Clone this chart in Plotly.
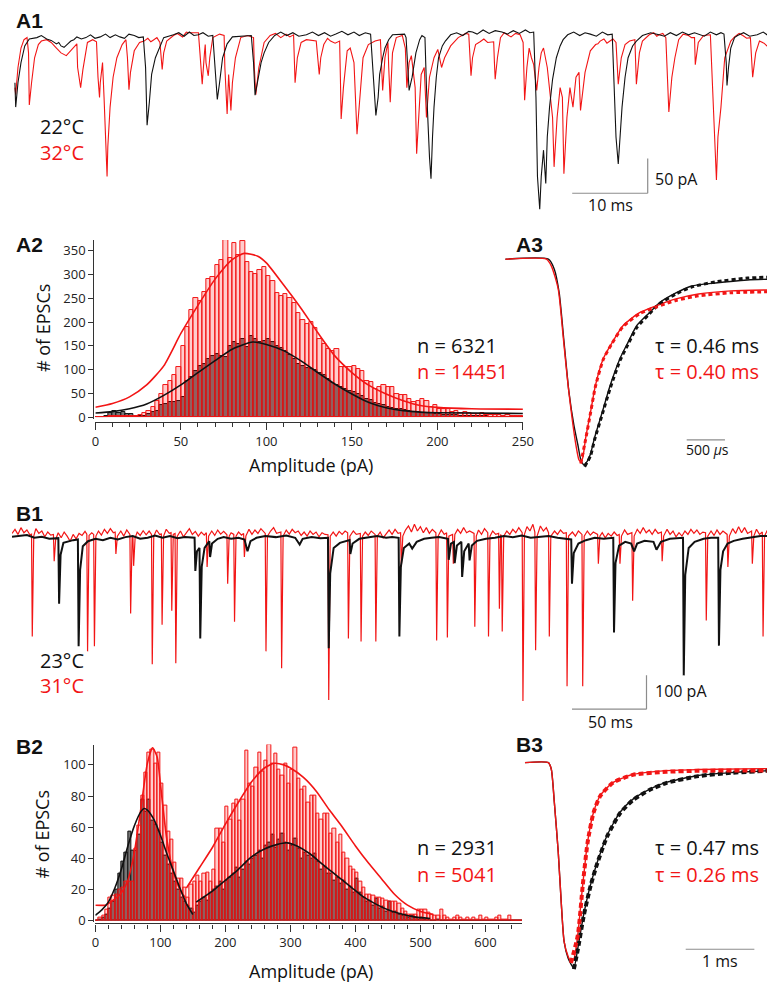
import plotly.graph_objects as go

# ---------------- data ----------------
# A1: spontaneous EPSC traces, (time ms, current pA)
a1_black = [(0, -69), (0.1, -104), (0.4, -69), (0.8, -40), (1.3, -16), (1.9, -6), (2.9, -4), (4.2, -6), (5.5, -13),
            (6.1, -16), (7.0, -13), (7.8, -7), (9.4, -4), (11.3, -3), (13.9, -3), (15.8, -1), (17.0, -3), (17.3, -47),
            (17.5, -130), (17.8, -97), (18.1, -57), (18.6, -33), (19.1, -19), (19.7, -4), (21.0, 0), (24.3, 0),
            (26.2, -1), (26.5, -47), (26.8, -93), (27.1, -69), (27.5, -33), (28.1, -13), (28.8, -3), (31.3, -1),
            (31.6, -40), (31.8, -87), (32.2, -64), (32.6, -40), (33.0, -26), (33.6, -11), (34.4, -1), (38.6, 0),
            (42.5, 1), (46.4, 3), (47.1, 1), (47.4, -47), (47.8, -116), (48.1, -90), (48.3, -57), (48.7, -33),
            (49.0, -19), (49.5, -7), (50.0, 0), (51.6, 1), (51.8, -4), (52.1, -61), (52.2, -80), (52.6, -61),
            (53.1, -26), (53.6, -7), (53.9, -1), (54.3, -4), (54.5, -76), (54.9, -176), (55.1, -207), (55.3, -147),
            (55.5, -104), (55.8, -61), (56.1, -33), (56.6, -16), (57.0, -9), (57.7, 0), (60.6, 4), (64.5, 4),
            (68.7, 4), (69.0, -90), (69.2, -204), (69.5, -251), (69.7, -204), (70.0, -166), (70.3, -214),
            (70.5, -147), (70.8, -104), (71.2, -64), (71.7, -33), (72.2, -16), (72.6, -7), (73.2, 0), (76.2, 1),
            (79.1, 1), (79.4, -76), (79.6, -147), (79.9, -186), (80.1, -147), (80.4, -104), (80.8, -61), (81.2, -33),
            (81.8, -16), (82.3, -9), (83.1, -1), (85.3, 0), (90.5, 1), (93.9, 1), (94.2, -40), (94.3, -73),
            (94.5, -47), (94.8, -19), (95.3, -4), (95.7, -1), (98.3, 0), (100.0, 3)]
# small baseline fluctuations of the black trace
a1_black_noise = [(3.5, -1), (4.8, -8), (5.8, -11), (6.5, -18), (7.4, -9), (8.2, -3), (8.8, -6), (10.0, 0),
                  (10.6, -5), (12.0, 1), (12.6, -4), (13.3, 0), (14.5, -5), (15.1, 1), (16.4, -4), (21.7, 3),
                  (22.4, -2), (23.1, 4), (23.7, -1), (24.9, 3), (25.6, -2), (35.2, 4), (36.0, -1), (36.8, 3),
                  (37.6, -2), (39.4, 4), (40.2, -1), (41.0, 3), (41.8, -2), (43.3, 5), (44.1, 0), (44.9, 4),
                  (45.6, -1), (58.5, 3), (59.3, -1), (60.1, 5), (61.2, 1), (62.0, 7), (62.8, 2), (63.6, 6), (65.2, 1),
                  (66.0, 6), (66.8, 2), (67.6, 7), (68.2, 3), (74.0, 4), (74.8, -1), (75.5, 3), (77.0, -2),
                  (77.8, 4), (78.5, 0), (84.2, 3), (86.0, -2), (86.8, 3), (87.6, -1), (88.4, 4), (89.2, 0), (90.0, 3),
                  (91.3, -2), (92.1, 4), (92.9, 0), (93.5, 3), (96.5, 3), (97.3, -2), (99.1, 4), (99.6, 0)]
a1_red = [(0, -76), (0.1, -86), (0.4, -47), (0.8, -19), (1.2, -7), (1.6, -4), (1.8, -26), (1.9, -101), (2.2, -69),
          (2.6, -33), (3.1, -14), (3.5, -9), (4.8, -11), (6.1, -26), (6.8, -30), (7.4, -23), (8.2, -13), (8.3, -47),
          (8.7, -76), (9.0, -50), (9.4, -26), (9.6, -11), (10.3, -7), (10.8, -10), (11.0, -61), (11.2, -90),
          (11.3, -69), (11.6, -40), (11.8, -90), (12.1, -161), (12.2, -204), (12.3, -161), (12.6, -104), (13.0, -61),
          (13.5, -33), (14.2, -14), (14.7, -7), (14.9, -33), (15.1, -79), (15.3, -54), (15.8, -23), (16.5, -11),
          (17.1, -9), (18.4, -7), (19.2, -11), (19.4, -40), (19.5, -50), (19.7, -26), (20.1, -9), (21.0, -1),
          (23.0, 3), (24.3, 3), (24.5, -26), (24.8, -71), (25.1, -26), (25.2, -14), (25.3, -40), (25.6, -59),
          (25.8, -33), (26.2, -4), (27.1, 1), (27.7, -1), (27.8, -47), (28.1, -114), (28.3, -57), (28.6, -109),
          (28.8, -69), (29.2, -33), (29.9, -4), (30.8, -1), (31.6, -4), (31.7, -47), (31.9, -86), (32.3, -47),
          (33.0, -11), (33.8, -1), (36.9, 0), (37.0, -26), (37.1, -69), (37.4, -33), (37.9, -11), (38.6, -7),
          (39.9, -9), (40.1, -33), (40.3, -57), (40.5, -33), (40.9, -14), (41.8, -9), (43.0, -9), (43.1, -61),
          (43.2, -121), (43.5, -76), (44.0, -23), (44.4, -19), (44.9, -40), (45.3, -143), (45.6, -104), (46.1, -33),
          (46.8, -14), (47.7, -9), (48.4, -7), (48.6, -47), (48.7, -80), (49.0, -33), (49.4, -11), (49.5, -47),
          (49.7, -97), (50.0, -26), (50.5, -4), (51.3, -1), (51.7, -19), (51.9, -76), (52.2, -40), (52.5, -30),
          (52.7, -50), (53.0, -76), (53.2, -171), (53.5, -104), (53.8, -57), (54.2, -47), (54.5, -119), (54.9, -61),
          (55.5, -33), (56.0, -21), (56.5, -47), (56.9, -33), (57.7, -16), (58.7, -4), (59.4, 1), (60.1, 1),
          (60.3, -33), (60.4, -59), (60.6, -33), (61.0, -14), (61.6, -10), (62.6, -11), (63.4, -10), (63.5, -40),
          (63.6, -64), (63.9, -33), (64.3, -4), (65.2, 0), (66.9, 0), (67.3, -11), (67.5, -94), (67.8, -47),
          (68.1, -19), (68.4, -33), (68.7, -43), (69.1, -80), (69.4, -47), (69.7, -26), (70.0, -19), (70.5, -47),
          (70.9, -90), (71.2, -119), (71.4, -190), (71.8, -119), (72.2, -76), (72.5, -90), (72.7, -200),
          (73.1, -119), (73.5, -76), (73.9, -104), (74.3, -61), (74.7, -54), (74.9, -109), (75.5, -54), (76.2, -23),
          (76.9, -14), (77.5, -9), (78.8, -9), (79.6, -11), (79.9, -71), (80.3, -33), (80.8, -14), (81.4, -9),
          (82.1, -7), (82.3, -71), (82.7, -26), (83.1, -9), (84.0, 0), (85.3, 0), (86.2, -4), (86.6, -111),
          (87.0, -61), (87.4, -33), (87.9, -7), (89.2, -1), (90.0, -4), (90.1, -43), (90.5, -11), (91.2, -1),
          (92.1, 0), (92.3, -47), (92.6, -123), (92.9, -209), (93.1, -147), (93.5, -104), (94.0, -33), (94.8, -9),
          (96.4, -1), (97.4, -4), (97.7, -61), (98.1, -26), (98.6, -9), (99.6, -16), (100.0, -13)]
# small baseline fluctuations of the red trace
a1_red_noise = [(4.2, -7), (5.4, -18), (17.6, -5), (18.0, -10), (18.8, -4), (21.5, 2), (22.2, -3), (22.7, 4),
                (34.5, 2), (35.2, -4), (35.9, 1), (36.4, -3), (41.4, -5), (42.4, -12), (59.0, -2), (59.7, 2),
                (62.1, -6), (64.8, 3), (65.7, -3), (66.3, 2), (77.2, -13), (78.0, -6), (78.4, -12), (79.2, -6),
                (84.6, 3), (85.0, -2), (85.8, 2), (88.5, 1), (89.6, -4), (95.3, -3), (95.9, 2), (96.9, -5),
                (99.2, -12)]
a1_scalebar_ms = 10
a1_scalebar_pa = 50

# A2: amplitude histograms (bin width 2.5 pA, bins from 0)
a2_bin_width = 2.5
a2_red_counts = [0, 0, 1, 2, 2, 3, 2, 2, 2, 3,
                 4, 8, 14, 22, 35, 49, 67, 77, 88, 105,
                 150, 190, 225, 250, 245, 262, 290, 295, 320, 330,
                 372, 335, 365, 340, 370, 325, 305, 300, 310, 315,
                 296, 285, 261, 254, 258, 250, 240, 219, 205, 195,
                 199, 188, 164, 153, 143, 140, 143, 105, 105, 105,
                 108, 101, 98, 77, 74, 60, 63, 67, 63, 63,
                 49, 46, 46, 39, 32, 35, 39, 35, 22, 25,
                 18, 18, 17, 12, 14, 10, 12, 8, 7, 6,
                 8, 5, 5, 4, 5, 3, 4, 3, 3, 2]
a2_black_counts = [0, 0, 3, 8, 14, 10, 12, 7, 6, 3,
                   2, 3, 6, 11, 14, 25, 28, 32, 32, 35,
                   42, 76, 84, 98, 108, 112, 122, 129, 133, 129,
                   126, 150, 157, 154, 164, 147, 171, 164, 157, 160,
                   165, 158, 150, 145, 140, 130, 122, 112, 108, 104,
                   101, 99, 94, 88, 80, 72, 67, 64, 60, 56,
                   53, 48, 45, 39, 36, 30, 28, 25, 22, 20,
                   18, 17, 15, 14, 12, 11, 10, 9, 8, 7,
                   6, 5, 5, 4, 4, 3, 3, 3, 2, 2,
                   2, 2, 1, 1, 1, 1, 1, 0, 1, 0]
a2_red_fit = [(0, 21), (10, 29), (20, 43), (30, 68), (40, 108), (50, 176), (60, 235), (70, 290), (80, 331),
              (87, 344), (95, 338), (100, 324), (110, 278), (120, 230), (130, 178), (140, 129), (150, 94),
              (160, 67), (170, 49), (180, 35), (190, 25), (200, 21), (220, 18), (250, 17)]
a2_black_fit = [(0, 9), (10, 12), (20, 18), (30, 28), (40, 46), (50, 68), (60, 94), (70, 119), (80, 143),
                (92, 158), (100, 153), (110, 140), (120, 119), (130, 94), (140, 70), (150, 49), (160, 31),
                (170, 20), (180, 14), (190, 11), (200, 9.5), (250, 8)]
a2_xticks = [0, 50, 100, 150, 200, 250]
a2_yticks = [0, 50, 100, 150, 200, 250, 300, 350]

# A3: normalised average EPSCs (time ms, amplitude) and exponential fits
a3_black = [(0, 0), (0.564, 0), (0.641, -0.049), (0.705, -0.166), (0.769, -0.410), (0.833, -0.654),
            (0.897, -0.815), (0.949, -0.912), (0.987, -0.985), (1.026, -1.010), (1.077, -0.990), (1.115, -0.956),
            (1.167, -0.878), (1.269, -0.751), (1.372, -0.620), (1.5, -0.488), (1.603, -0.410), (1.718, -0.327),
            (1.885, -0.263), (2.013, -0.215), (2.231, -0.166), (2.436, -0.132), (2.744, -0.117), (3.167, -0.102),
            (3.462, -0.098)]
a3_red = [(0, 0), (0.538, 0), (0.603, -0.034), (0.692, -0.146), (0.756, -0.376), (0.821, -0.620), (0.885, -0.815),
          (0.923, -0.912), (0.962, -0.985), (0.987, -0.995), (1.013, -0.976), (1.051, -0.878), (1.115, -0.751),
          (1.179, -0.620), (1.282, -0.488), (1.397, -0.410), (1.538, -0.327), (1.756, -0.263), (1.974, -0.229),
          (2.231, -0.195), (2.526, -0.171), (2.949, -0.156), (3.462, -0.151)]
a3_black_fit = [(1.038, -1.020), (1.115, -0.966), (1.167, -0.888), (1.269, -0.761), (1.372, -0.634),
                (1.5, -0.498), (1.603, -0.420), (1.718, -0.337), (1.885, -0.268), (2.013, -0.220), (2.231, -0.171),
                (2.436, -0.137), (2.744, -0.112), (3.167, -0.093), (3.462, -0.088)]
a3_red_fit = [(0.987, -1.005), (1.051, -0.885), (1.115, -0.755), (1.179, -0.625), (1.282, -0.492),
              (1.397, -0.413), (1.538, -0.332), (1.756, -0.268), (1.974, -0.235), (2.231, -0.203),
              (2.526, -0.180), (2.949, -0.165), (3.462, -0.160)]
a3_scalebar_ms = 0.5

# B1: spontaneous EPSC traces, (time ms, current pA)
b1_red = [(0, 8), (2, 20), (4, 5), (6, 25), (8, 10), (10, 18), (12, 4), (13.1, 6), (13.6, -297), (14.6, 0),
          (16, 22), (18, 8), (20, 15), (22, -2), (24, 12), (26, 3), (27.8, 5), (28.3, -74), (29.3, -10), (31, 10),
          (33, -5), (35, 12), (37, 0), (39, -15), (41, 5), (43, -8), (45, 8), (47, 2), (49, 14), (50.2, 6),
          (50.7, -341), (51.7, 2), (53.5, 10), (54.8, 5), (55.3, -326), (56.3, 0), (58, 15), (60, 3), (62, 20),
          (64, 8), (66, 22), (68, 10), (69.2, 12), (69.7, -53), (70.7, 0), (73, 15), (75, 0), (77, 18), (79.1, 5),
          (79.6, -229), (80.6, -5), (81.1, 0), (81.6, -88), (82.6, -5), (84, 12), (86, 2), (88, 16), (90, 4),
          (92, 15), (93.6, 5), (94.1, -379), (95.1, 0), (97, 18), (99, 5), (100.2, 6), (100.7, -262), (101.7, 0),
          (103.5, 20), (105.5, 8), (106.7, 10), (107.2, -221), (108.2, 5), (109.4, 8), (109.9, -376), (110.9, 0),
          (113, 15), (115, -2), (117, 10), (119, 22), (121, 5), (123, 14), (125, 0), (127, 12), (129, 3),
          (130.4, 10), (130.9, -91), (131.9, 0), (134, 15), (136, 2), (138, 18), (140, 6), (142, 14), (144.2, 4),
          (144.7, -141), (145.7, 0), (147, 10), (148.8, 5), (149.3, -253), (150.3, 0), (152, 12), (154, 3),
          (155.4, 8), (155.9, -62), (156.9, 0), (159, 20), (161, 5), (163, 18), (165, 8), (167, 22), (169.9, 8),
          (170.4, -341), (171.4, 0), (173.5, 15), (175.5, 25), (177.5, 8), (180.4, 12), (180.9, -391), (181.9, 0),
          (184, 18), (186, 6), (188, 20), (190, 10), (192, 15), (194, 2), (196, 12), (198, 0), (200, 15), (202, 5),
          (204, 12), (206, -2), (208, 10), (210, 5), (212.0, 4), (212.5, -485), (213.5, 0), (215.5, 12),
          (217.5, 0), (219.5, 14), (221.5, 5), (223.5, 15), (225.2, 10), (225.7, -303), (226.7, 0), (229, 15),
          (231, 5), (233.7, 8), (234.2, -312), (235.2, 0), (237, 12), (239, 2), (241, 15), (243.6, 5),
          (244.1, -312), (245.1, 0), (247, 12), (249, -5), (251, 8), (253, 18), (255, 5), (257, 20), (259, 8),
          (260.7, 10), (261.2, -91), (262.2, 0), (264, 18), (266, 30), (268, 12), (270, 35), (272, 15), (274, 28),
          (276, 10), (278, 25), (280, 8), (282, 20), (284.4, 10), (284.9, -309), (285.9, 0), (288, 18), (290, 5),
          (291.6, 10), (292.1, -300), (293.1, 0), (295.6, 5), (296.1, -82), (297.1, 5), (299, 20), (301, 8),
          (303, 25), (305, 10), (307, 15), (310.0, 8), (310.5, -268), (311.5, 0), (313, 18), (315, 5), (317, 22),
          (319.2, 10), (319.7, -297), (320.7, 0), (322.5, 15), (324.5, 5), (326.5, 8), (327.0, -215), (327.8, 5),
          (328.4, 0), (328.9, -282), (329.9, 0), (332, 15), (334, 5), (336, 20), (338, 10), (340, 25), (342.3, 10),
          (342.8, -488), (343.8, 5), (345.5, 28), (347.5, 15), (349.5, 35), (350.8, 12), (351.3, -338),
          (352.3, 0), (354.5, 30), (356.5, 15), (358.5, 25), (360.0, 10), (360.5, -297), (361.5, 0), (364, 15),
          (366, 5), (368, 18), (370, 8), (371.9, 10), (372.4, -444), (373.4, 0), (376, 12), (378, 0), (380, 15),
          (382.4, 5), (382.9, -444), (383.9, 0), (386, 15), (388, 3), (390, 12), (392.9, 5), (393.4, -82),
          (394.4, 0), (396, 10), (398, -5), (400, 8), (402, 0), (404, 12), (406, 2), (407.4, 5), (407.9, -82),
          (408.9, 0), (411, 18), (413, 5), (415.9, 10), (416.4, -191), (417.4, 0), (419.5, 20), (421.5, 8),
          (423.5, 25), (425.5, 10), (427.5, 18), (429.5, 5), (431.5, 20), (433.5, 8), (435.7, 12), (436.2, -74),
          (437.2, 0), (439.5, 20), (441.5, 5), (443.5, 15), (445.5, -2), (447.5, 10), (449.5, 0), (451.5, 15),
          (453.5, 5), (455.5, 20), (457.5, 8), (459.5, 18), (461.5, 5), (463.5, 12), (465.3, 10), (465.8, -250),
          (466.8, 0), (469, 15), (471, 2), (473, 18), (475, 5), (477, 15), (479.8, 5), (480.3, -91), (481.3, 0),
          (483.5, 22), (485.5, 8), (487.5, 28), (489.5, 10), (491.5, 25), (493.5, 8), (496.2, 15), (496.7, -82),
          (497.7, 0), (499.5, 20), (501.5, 5), (503.4, 12), (503.9, -297), (504.9, 0), (506.5, 15), (508.5, 5),
          (510, 12)]
b1_black = [(0, -2), (5, 0), (10, 3), (15, -5), (20, -2), (25, -8), (31.1, -6), (31.6, -200), (32.6, -55),
            (34.5, -20), (38, -15), (41, -12), (44.2, -10), (44.7, -326), (45.7, -100), (47.5, -30), (51, -15),
            (56, -8), (61, -12), (66, -5), (71, -10), (76, -3), (81, 0), (86, -8), (91, -5), (96, 2), (101, -5),
            (106, 0), (111, -6), (116, -3), (122.5, -5), (123.0, -103), (124.1, -45), (125.8, -35), (126.3, -303),
            (127.3, -90), (129.2, -35), (132.4, -15), (132.9, -62), (134.2, -22), (138, -8), (142, -3), (147, -8),
            (152, -5), (156, -10), (158, -45), (160, -15), (164, -5), (170, 0), (177, -3), (184, 2), (190, -5),
            (193, -25), (195, -8), (201, -3), (207, -6), (212.0, -5), (212.5, -332), (213.5, -110), (215.8, -35),
            (220, -20), (224, -14), (226.5, -12), (227.0, -53), (228.5, -22), (233, -8), (239, -3), (245, 0),
            (251, -5), (255, -3), (259.4, -5), (259.9, -297), (260.9, -90), (262.9, -35), (266.5, -22),
            (268.5, -37), (271.5, -17), (276.5, -8), (281.5, -5), (286.5, -3), (292.5, -8), (293, -70),
            (294.5, -22), (296.5, -17), (297, -80), (298.5, -28), (301.5, -17), (302.0, -121), (303.4, -45),
            (306.4, -22), (307, -72), (308.5, -28), (312, -14), (318, -8), (324, -5), (330, 0), (336, -3), (342, 2),
            (348, -5), (354, -3), (360, 0), (366, -5), (371, -8), (375.2, -10), (375.7, -141), (376.9, -50),
            (380, -22), (385, -12), (391, -5), (397, -8), (403.4, -5), (403.9, -285), (404.9, -80), (407.3, -28),
            (411.4, -17), (415.4, -22), (417.4, -45), (419.4, -22), (424.4, -14), (430.4, -17), (432.4, -40),
            (435.4, -17), (441.4, -8), (447.4, -5), (450.2, -5), (450.7, -412), (451.7, -115), (454, -35),
            (458, -17), (464, -8), (469, -5), (473.8, -5), (474.3, -324), (475.3, -100), (477.1, -45),
            (480.1, -22), (484.2, -14), (490.2, -8), (496.2, -3), (502.2, 0), (508.7, 0), (509.2, -297), (510, -90)]
b1_scalebar_ms = 50
b1_scalebar_pa = 100

# B2: amplitude histograms (bin width 5 pA, bins from 0)
b2_bin_width = 5
b2_red_counts = [0, 2, 3, 7, 15, 16, 17, 20, 21, 25,
                 25, 25, 46, 61, 80, 95, 108, 110, 101, 108,
                 88, 74, 57, 52, 37, 27, 27, 21, 15, 23,
                 25, 29, 25, 30, 31, 25, 33, 59, 59, 50,
                 73, 65, 75, 78, 64, 78, 109, 88, 86, 98,
                 108, 96, 103, 113, 101, 107, 97, 93, 101, 88,
                 97, 111, 91, 84, 86, 76, 80, 80, 69, 65,
                 69, 69, 56, 59, 50, 55, 44, 40, 35, 33,
                 31, 25, 21, 17, 17, 16, 15, 15, 14, 13,
                 12, 12, 12, 11, 8, 6, 4, 4, 4, 7,
                 7, 7, 5, 4, 3, 3, 7, 3, 2, 1,
                 2, 3, 2, 1, 2, 1, 2, 1, 3, 1,
                 2, 1, 1, 2, 3, 1, 1, 3, 0, 0,
                 0, 0]
b2_black_counts = [0, 1, 2, 4, 8, 12, 20, 30, 38, 44,
                   57, 45, 45, 55, 78, 70, 78, 64, 62, 58,
                   50, 42, 36, 30, 25, 20, 15, 12, 10, 8,
                   5, 10, 12, 15, 13, 18, 20, 22, 25, 20,
                   26, 28, 30, 34, 28, 33, 38, 36, 40, 42,
                   45, 40, 48, 50, 55, 47, 52, 56, 50, 45,
                   48, 53, 46, 40, 44, 42, 40, 43, 38, 33,
                   35, 30, 30, 26, 28, 24, 26, 20, 22, 18,
                   27, 18, 15, 12, 13, 10, 14, 8, 9, 6,
                   12, 5, 6, 4, 3, 4, 2, 3, 2, 1,
                   2, 1, 1, 0, 0, 1, 0, 0, 0, 0,
                   0, 0, 0, 0, 0, 0, 0, 0, 0, 0,
                   0, 0, 0, 0, 0, 0, 0, 0, 0, 0,
                   0, 0]
b2_red_fit1 = [(0, 10), (15, 10), (20, 11), (30, 14), (40, 18), (50, 26), (60, 44), (70, 72), (80, 101), (88, 111),
               (95, 105), (100, 88), (105, 69), (110, 52), (120, 31), (130, 20), (138, 15)]
b2_red_fit2 = [(140, 21), (160, 34), (180, 47), (200, 62), (220, 76), (240, 89), (260, 98), (275, 101), (290, 100),
               (300, 98), (320, 92), (340, 83), (360, 71), (380, 60), (400, 48), (420, 37), (440, 27), (460, 17),
               (480, 10), (500, 6), (520, 4)]
b2_black_fit1 = [(0, 3.5), (10, 7), (20, 12), (30, 21), (40, 33), (50, 48), (60, 61), (70, 70), (75, 72), (80, 71),
                 (90, 65), (100, 55), (110, 43), (120, 32), (130, 21), (140, 11), (150, 4)]
b2_black_fit2 = [(155, 12), (180, 19), (200, 26), (220, 33), (240, 41), (260, 46), (280, 49), (295, 50), (310, 48),
                 (330, 43), (350, 36), (365, 31), (380, 26), (395, 21), (410, 16), (430, 11), (450, 7), (465, 5),
                 (490, 2.5), (515, 1.5)]
b2_xticks = [0, 100, 200, 300, 400, 500, 600]
b2_yticks = [0, 20, 40, 60, 80, 100]

# B3: normalised average EPSCs and fits
b3_black = [(0, 0), (0.343, 0), (0.386, -0.034), (0.429, -0.194), (0.486, -0.437), (0.529, -0.680), (0.571, -0.874),
            (0.629, -0.956), (0.671, -0.985), (0.714, -1.005), (0.771, -0.908), (0.857, -0.743), (0.957, -0.597),
            (1.057, -0.485), (1.2, -0.354), (1.386, -0.243), (1.571, -0.180), (1.814, -0.131), (2.057, -0.097),
            (2.529, -0.063), (3.0, -0.049), (3.529, -0.039), (3.6, -0.034)]
b3_red = [(0, 0), (0.343, 0), (0.386, -0.034), (0.429, -0.194), (0.486, -0.437), (0.529, -0.680), (0.571, -0.874),
          (0.629, -0.947), (0.671, -0.971), (0.714, -0.961), (0.771, -0.840), (0.843, -0.597), (0.914, -0.388),
          (1.0, -0.243), (1.1, -0.160), (1.286, -0.097), (1.571, -0.058), (2.057, -0.039), (2.529, -0.034),
          (3.6, -0.029)]
b3_black_fit = [(0.714, -1.01), (0.771, -0.915), (0.857, -0.75), (0.957, -0.603), (1.057, -0.49), (1.2, -0.36),
                (1.386, -0.248), (1.571, -0.184), (1.814, -0.134), (2.057, -0.1), (2.529, -0.066), (3.0, -0.05),
                (3.529, -0.04)]
b3_red_fit = [(0.671, -0.98), (0.771, -0.845), (0.843, -0.6), (0.914, -0.39), (1.0, -0.245), (1.1, -0.162),
              (1.286, -0.098), (1.571, -0.06), (2.057, -0.045), (2.529, -0.04), (3.529, -0.038)]
b3_scalebar_ms = 1

# ---------------- styling / layout helpers ----------------
W, H = 775, 982
RED = "#f21515"
BLACK = "#111111"
GRAY = "#8c8c8c"
FONT = "Open Sans"


def fx(x):
    return x / W


def fy(y):
    return 1 - y / H


def xs(pairs):
    return [p[0] for p in pairs]


def ys(pairs):
    return [p[1] for p in pairs]


fig = go.Figure()


def line(pairs, color, width, ax, dash=None, shape="linear"):
    fig.add_trace(go.Scatter(x=xs(pairs), y=ys(pairs), mode="lines",
                             line=dict(color=color, width=width, dash=dash, shape=shape, smoothing=0.6),
                             xaxis="x" + ax, yaxis="y" + ax, hoverinfo="skip"))


def bars(counts, width, fill, edge, ax):
    centers = [width * i + width / 2 for i in range(len(counts))]
    fig.add_trace(go.Bar(x=centers, y=counts, width=width,
                         marker=dict(color=fill, line=dict(color=edge, width=1)),
                         xaxis="x" + ax, yaxis="y" + ax, hoverinfo="skip"))


# A1
line(sorted(a1_red + a1_red_noise), RED, 1.1, "")
line(sorted(a1_black + a1_black_noise), BLACK, 1.1, "")
# A2
bars(a2_black_counts, a2_bin_width, "#777777", BLACK, "2")
bars(a2_red_counts, a2_bin_width, "rgba(255,0,0,0.2)", RED, "2")
line(a2_red_fit, RED, 1.6, "2", shape="spline")
line(a2_black_fit, BLACK, 1.6, "2", shape="spline")
# A3
line(a3_black, BLACK, 1.4, "3", shape="spline")
line(a3_red, RED, 1.4, "3", shape="spline")
line(a3_black_fit, BLACK, 3, "3", dash="4px,3px", shape="spline")
line(a3_red_fit, RED, 3, "3", dash="4px,3px", shape="spline")
# B1
line(b1_red, RED, 1.2, "4")
line(b1_black, BLACK, 2.0, "4")
# B2
bars(b2_black_counts, b2_bin_width, "#777777", BLACK, "5")
bars(b2_red_counts, b2_bin_width, "rgba(255,0,0,0.2)", RED, "5")
line(b2_red_fit1, RED, 1.6, "5", shape="spline")
line(b2_red_fit2, RED, 1.6, "5", shape="spline")
line(b2_black_fit1, BLACK, 1.6, "5", shape="spline")
line(b2_black_fit2, BLACK, 1.6, "5", shape="spline")
# B3
line(b3_black, BLACK, 1.4, "6", shape="spline")
line(b3_red, RED, 1.4, "6", shape="spline")
line(b3_black_fit, BLACK, 4, "6", dash="5px,3px", shape="spline")
line(b3_red_fit, RED, 4, "6", dash="5px,3px", shape="spline")

hidden = dict(visible=False, showgrid=False, zeroline=False)
tickfont = dict(family=FONT, size=13, color="#222")


def hist_x(dom, rng, pos, ticks, minor):
    return dict(domain=dom, range=rng, anchor="free", position=pos, showline=True, linecolor="#333", linewidth=1.3,
                ticks="outside", ticklen=7, tickcolor="#333", tickwidth=1.3, tickvals=ticks, tickfont=tickfont,
                showgrid=False, zeroline=False,
                minor=dict(dtick=minor, ticks="outside", ticklen=4, tickcolor="#333", tickwidth=1, showgrid=False))


def hist_y(dom, rng, pos, ticks):
    return dict(domain=dom, range=rng, anchor="free", position=pos, showline=True, linecolor="#333", linewidth=1.3,
                ticks="outside", ticklen=5, tickcolor="#333", tickwidth=1.3, tickvals=ticks, tickfont=tickfont,
                showgrid=False, zeroline=False)


fig.update_layout(
    width=W, height=H, margin=dict(l=0, r=0, t=0, b=0),
    paper_bgcolor="white", plot_bgcolor="rgba(0,0,0,0)", showlegend=False,
    barmode="overlay", bargap=0,
    xaxis=dict(domain=[0, 1], range=[-0.39, 100.26], **hidden),
    yaxis=dict(domain=[fy(215), fy(10)], range=[-268.6, 24.3], **hidden),
    xaxis2=hist_x([fx(85), fx(521)], [0, 250], fy(417), a2_xticks, 10),
    yaxis2=hist_y([fy(414.2), fy(233.7)], [-4, 372], fx(83), a2_yticks),
    xaxis3=dict(domain=[fx(503), 1], range=[0, 3.487], **hidden),
    yaxis3=dict(domain=[fy(470), fy(245)], range=[-1.059, 0.039], **hidden),
    xaxis4=dict(domain=[0, 1], range=[0, 509.9], **hidden),
    yaxis4=dict(domain=[fy(712), fy(505)], range=[-529, 79], **hidden),
    xaxis5=hist_x([fx(85), fx(520)], [0, 656], fy(922), b2_xticks, 20),
    yaxis5=hist_y([fy(920.9), fy(741.9)], [-1, 113], fx(83), b2_yticks),
    xaxis6=dict(domain=[fx(523), 1], range=[0, 3.6], **hidden),
    yaxis6=dict(domain=[fy(975), fy(752)], range=[-1.044, 0.039], **hidden),
)

# scale bars (data coordinates of their panels)
sb = dict(color=GRAY, width=1.2)
shapes = [
    dict(type="line", xref="x", yref="y", x0=83.8, x1=83.8, y0=-228, y1=-228 + a1_scalebar_pa, line=sb),
    dict(type="line", xref="x", yref="y", x0=83.8 - a1_scalebar_ms, x1=83.8, y0=-228, y1=-228, line=sb),
    dict(type="line", xref="x3", yref="y3", x0=2.372, x1=2.372 + a3_scalebar_ms, y0=-0.888, y1=-0.888, line=sb),
    dict(type="line", xref="x4", yref="y4", x0=425.7, x1=425.7, y0=-512, y1=-512 + b1_scalebar_pa, line=sb),
    dict(type="line", xref="x4", yref="y4", x0=425.7 - b1_scalebar_ms, x1=425.7, y0=-512, y1=-512, line=sb),
    dict(type="line", xref="x6", yref="y6", x0=2.343, x1=2.343 + b3_scalebar_ms, y0=-0.913, y1=-0.913, line=sb),
]
fig.update_layout(shapes=shapes)


def note(text, x, y, size, color=BLACK, xanchor="left", family=FONT, angle=0):
    fig.add_annotation(text=text, x=fx(x), y=fy(y), xref="paper", yref="paper", showarrow=False,
                       xanchor=xanchor, yanchor="middle", textangle=angle,
                       font=dict(family=family, size=size, color=color))


BOLD = "Liberation Sans"
for lab, x, y in [("A1", 2, 13), ("A2", 2, 238), ("A3", 512, 238), ("B1", 2, 509), ("B2", 2, 744), ("B3", 512, 742)]:
    note("<b>%s</b>" % lab, x, y, 21, family=BOLD)

note("22°C", 27, 119, 20)
note("32°C", 27, 146, 20, RED)
note("23°C", 27, 657, 20)
note("31°C", 27, 682, 20, RED)
note("n = 6321", 411, 340, 20)
note("n = 14451", 411, 366, 20, RED)
note("τ = 0.46 ms", 654, 340, 20)
note("τ = 0.40 ms", 654, 366, 20, RED)
note("n = 2931", 411, 846, 20)
note("n = 5041", 411, 873, 20, RED)
note("τ = 0.47 ms", 654, 846, 20)
note("τ = 0.26 ms", 654, 873, 20, RED)
note("50 pA", 654, 172, 16)
note("10 ms", 610, 198, 16, xanchor="center")
note("100 pA", 654, 688, 16)
note("50 ms", 610, 719, 16, xanchor="center")
note("500 <i>μ</i>s", 709, 445, 14, xanchor="center")
note("1 ms", 722, 960, 16, xanchor="center")
note("Amplitude (pA)", 305, 460, 18, xanchor="center")
note("Amplitude (pA)", 305, 970, 18, xanchor="center")
note("# of EPSCs", 31, 322, 18, xanchor="center", angle=-90)
note("# of EPSCs", 31, 832, 18, xanchor="center", angle=-90)

fig.write_html("out.html")
